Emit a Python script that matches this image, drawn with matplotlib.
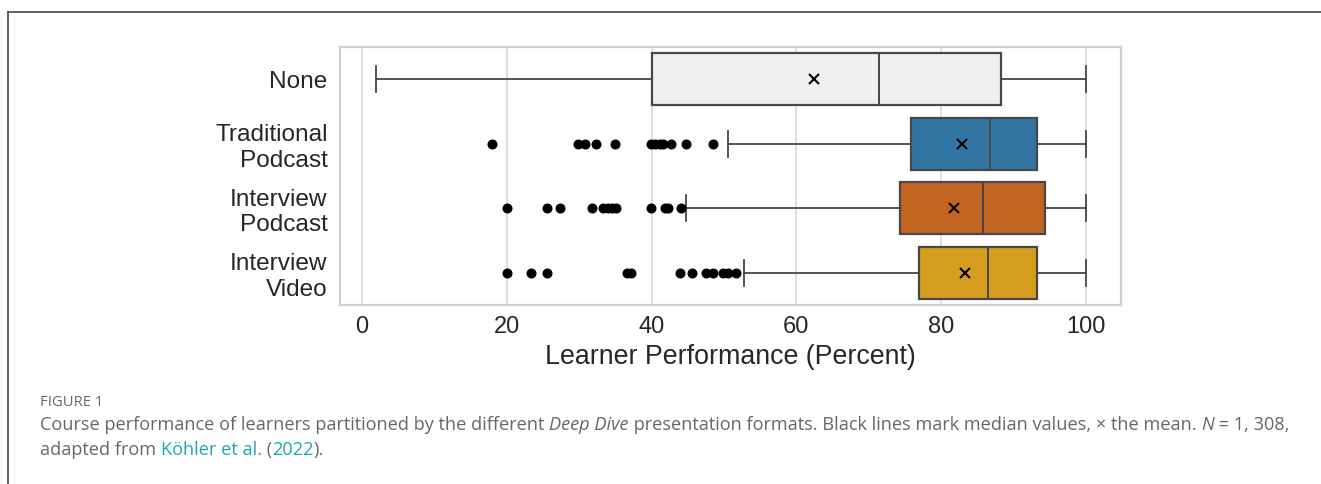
import matplotlib
matplotlib.use("Agg")
import matplotlib.pyplot as plt
from matplotlib.lines import Line2D

plt.rcParams["font.family"] = ["Liberation Sans", "DejaVu Sans"]

# Presentation formats and their performance summaries (percent)
categories = ["None", "Traditional\nPodcast", "Interview\nPodcast", "Interview\nVideo"]
q1 = [40.0, 75.8, 74.3, 76.9]
median = [71.4, 86.7, 85.8, 86.5]
q3 = [88.3, 93.2, 94.3, 93.2]
whisker_low = [1.9, 50.6, 44.75, 52.7]
whisker_high = [100.0, 100.0, 100.0, 100.0]
mean = [62.4, 82.8, 81.7, 83.2]
outliers = [
    [],
    [18.0, 29.9, 30.8, 32.3, 34.9, 39.9, 40.5, 41.1, 41.6, 42.7, 44.8, 48.5],
    [20.0, 25.6, 27.3, 31.8, 33.3, 34.0, 34.5, 35.1, 39.9, 41.9, 42.3, 44.0],
    [20.0, 23.3, 25.6, 36.6, 37.2, 43.9, 45.6, 47.5, 48.5, 49.9, 50.5, 51.7],
]
box_colors = ["#eff0f2", "#3174a1", "#c26422", "#d69e1e"]
x_ticks = [0, 20, 40, 60, 80, 100]

W, H = 1321, 484
fig = plt.figure(figsize=(W / 100, H / 100), dpi=100)
fig.patch.set_facecolor("white")

ax = fig.add_axes([340 / W, 1 - 305 / H, (1121 - 340) / W, (305 - 47) / H])

stats = []
for i in range(len(categories)):
    stats.append(dict(med=median[i], q1=q1[i], q3=q3[i], whislo=whisker_low[i],
                      whishi=whisker_high[i], mean=mean[i], fliers=outliers[i]))

edge = "#474747"
bp = ax.bxp(stats, positions=range(len(categories)), widths=0.8,
            orientation="horizontal", patch_artist=True, showmeans=True,
            boxprops=dict(edgecolor=edge, linewidth=1.6),
            medianprops=dict(color=edge, linewidth=1.4),
            whiskerprops=dict(color=edge, linewidth=1.3),
            capprops=dict(color=edge, linewidth=1.3),
            flierprops=dict(marker="o", markerfacecolor="black",
                            markeredgecolor="black", markersize=6.2),
            meanprops=dict(marker="x", markeredgecolor="black",
                           markersize=6.5, markeredgewidth=1.5),
            zorder=3)
for patch, c in zip(bp["boxes"], box_colors):
    patch.set_facecolor(c)

ax.set_xlim(-3.0, 104.8)
ax.set_ylim(len(categories) - 0.5, -0.5)
ax.set_xticks(x_ticks)
ax.set_yticks(range(len(categories)))
ax.set_yticklabels(categories)
ax.grid(axis="x", color="#d6d6d6", linewidth=1.1, zorder=0)
ax.set_axisbelow(True)
for s in ax.spines.values():
    s.set_color("#cfcfcf")
    s.set_linewidth(1.6)
ax.tick_params(length=0, labelsize=17, colors="#262626")
ax.tick_params(axis="y", pad=9, labelsize=17.6)
ax.tick_params(axis="x", pad=8)
ax.set_xlabel("Learner Performance (Percent)", fontsize=19.3,
              color="#262626", labelpad=4)

# Outer frame lines of the figure panel
fig.add_artist(Line2D([8 / W, 8 / W], [0, 1 - 12 / H], color="#555555",
                      linewidth=1.3, transform=fig.transFigure))
fig.add_artist(Line2D([8 / W, 1], [1 - 12 / H, 1 - 12 / H], color="#555555",
                      linewidth=1.3, transform=fig.transFigure))

# Caption
grey = "#666666"
teal = "#1ea5b8"
cfont = ["Open Sans", "DejaVu Sans"]
fig.text(40 / W, 1 - 402 / H, "FIGURE 1", fontsize=10.6, color=grey,
         family=cfont, va="center", ha="left")

renderer = fig.canvas.get_renderer()


def text_width(s, size, style):
    t = fig.text(0, 0, s + "|", fontsize=size, family=cfont, style=style)
    bar = fig.text(0, 0, "|", fontsize=size, family=cfont, style=style)
    w = t.get_window_extent(renderer=renderer).width - \
        bar.get_window_extent(renderer=renderer).width
    t.remove()
    bar.remove()
    return w


def place_parts(x_px, baseline_px, parts, size=13.1):
    x = x_px
    for s, col, sty in parts:
        fig.text(x / W, 1 - baseline_px / H, s, fontsize=size, family=cfont,
                 color=col, style=sty, va="baseline", ha="left")
        x += text_width(s, size, sty)


place_parts(40, 430, [
    ("Course performance of learners partitioned by the different ", grey, "normal"),
    ("Deep Dive", grey, "italic"),
    (" presentation formats. Black lines mark median values, \u00d7 the mean. ", grey, "normal"),
    ("N", grey, "italic"),
    (" = 1, 308,", grey, "normal"),
])
place_parts(40, 455, [
    ("adapted from ", grey, "normal"),
    ("K\u00f6hler et al.", teal, "normal"),
    (" (", grey, "normal"),
    ("2022", teal, "normal"),
    (").", grey, "normal"),
])

fig.savefig("out.png", dpi=100)
